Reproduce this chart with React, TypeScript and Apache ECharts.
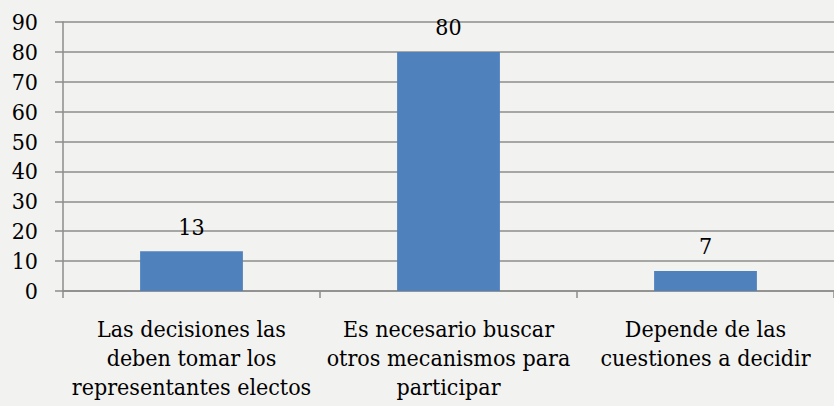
import React, { useEffect, useRef } from "react";
import * as echarts from "echarts";

const categories = [
  "Las decisiones las\ndeben tomar los\nrepresentantes electos",
  "Es necesario buscar\notros mecanismos para\nparticipar",
  "Depende de las\ncuestiones a decidir",
];
const values = [13.3, 80, 6.7];
const yTicks = { min: 0, max: 90, interval: 10 };

export default function App() {
  const ref = useRef<HTMLDivElement>(null);
  useEffect(() => {
    document.body.style.margin = "0";
    const chart = echarts.init(ref.current!, null, { renderer: "svg" });
    const font = "DejaVu Serif Condensed";
    chart.setOption({
      animation: false,
      backgroundColor: "#f2f2f0",
      textStyle: { fontFamily: font },
      grid: { left: 63, top: 22, width: 776, height: 269, containLabel: false },
      xAxis: {
        type: "category",
        data: categories,
        axisLine: { show: true, lineStyle: { color: "#8c8c8c", width: 1.5 } },
        axisTick: { show: true, length: 7, lineStyle: { color: "#8c8c8c", width: 1.5 } },
        axisLabel: {
          color: "#000",
          fontFamily: font,
          fontSize: 23,
          lineHeight: 29,
          margin: 23,
          interval: 0,
          align: "center",
        },
      },
      yAxis: {
        type: "value",
        min: yTicks.min,
        max: yTicks.max,
        interval: yTicks.interval,
        axisLine: { show: true, lineStyle: { color: "#8c8c8c", width: 1.5 } },
        axisTick: { show: true, length: 8, lineStyle: { color: "#8c8c8c", width: 1.5 } },
        splitLine: { show: true, lineStyle: { color: "#8c8c8c", width: 1.5 } },
        axisLabel: {
          color: "#000",
          fontFamily: font,
          fontSize: 23,
          margin: 25,
        },
      },
      series: [
        {
          type: "bar",
          data: values,
          barWidth: "40%",
          itemStyle: { color: "#4f81bd" },
          label: {
            show: true,
            position: "top",
            distance: 13,
            color: "#000",
            fontFamily: font,
            fontSize: 23,
            formatter: (p: any) => String(Math.round(p.value)),
          },
        },
      ],
    });
    return () => chart.dispose();
  }, []);
  return (
    <div
      ref={ref}
      style={{ position: "fixed", left: 0, top: 0, width: 834, height: 406 }}
    />
  );
}
